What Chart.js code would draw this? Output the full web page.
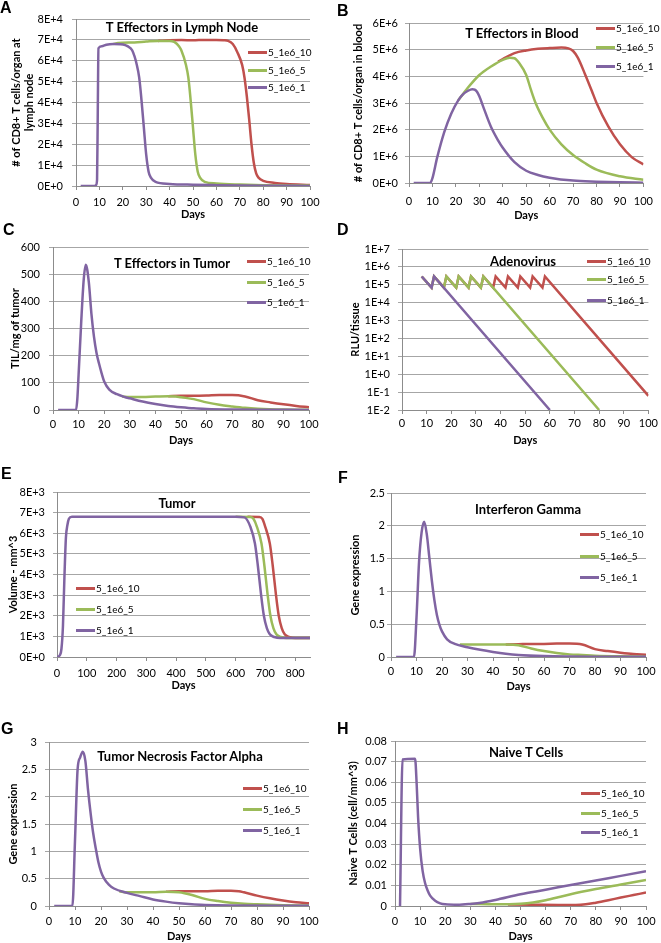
<!DOCTYPE html>
<html lang="en">
<head>
<meta charset="UTF-8">
<title>Model simulations - 5_1e6 dosing</title>
<style>
    body { margin: 0; background: #fff; }
    #fig { position: relative; width: 661px; height: 943px; overflow: hidden; color: #000; }
    .cell { position: absolute; }
    .cell canvas { display: block; }
    .letter { position: absolute; font: bold 16px/16px 'Liberation Sans', Arial, sans-serif; }
    .ttl { position: absolute; font: bold 13px Lato, sans-serif; transform: translate(-50%, -50%); white-space: nowrap; }
    .leg { position: absolute; font: 10px Lato, sans-serif; transform: translateY(-50%); display: flex; align-items: center; white-space: nowrap; }
    .sw { display: inline-block; width: 19px; height: 3px; margin-right: 1px; }
</style>
</head>
<body>
<div id="fig"></div>

<script src="https://cdn.jsdelivr.net/npm/chart.js"></script>
<script>
// series order: 5_1e6_10, 5_1e6_5, 5_1e6_1
const seriesNames = ['5_1e6_10', '5_1e6_5', '5_1e6_1'];
const seriesColors = ['#c0504d', '#9bbb59', '#8064a2'];

// A - T effectors in lymph node  [day, cells]
const lymph10 = [[35,69500],[37,69600],[40,69800],[45,69900],[50,69800],[55,70000],[60,70000],[63,69800],[65,69500],[67,68000],[69,64000],[71,58000],[72,52000],[73,43000],[74,32000],[75,20000],[76,11000],[77,6000],[78,4000],[80,2500],[85,1500],[90,1000],[100,500]];
const lymph5 = [[16,68000],[18,68500],[25,68800],[30,69200],[35,69500],[40,69500],[42,69000],[44,67000],[45,65000],[47,58000],[48,52000],[49,41000],[50,28000],[51,15000],[52,7000],[53,4000],[55,2000],[60,1200],[70,700],[80,400],[100,200]];
const lymph1 = [[2,0],[8,0],[8.6,500],[9,3000],[9.3,35000],[9.6,66000],[11,67000],[13,67700],[16,68000],[19,67900],[21,67500],[22,67000],[24,65000],[26,58000],[27,52000],[28,41000],[29,28000],[30,15000],[31,7000],[32,4000],[34,2000],[40,1000],[50,600],[60,400],[80,150],[100,50]];

// B - T effectors in blood
const blood10 = [[38,4550000],[40,4650000],[45,4870000],[50,4970000],[55,5030000],[60,5060000],[65,5080000],[68,5050000],[70,4950000],[72,4700000],[75,4100000],[78,3450000],[80,3000000],[85,2120000],[90,1450000],[95,970000],[100,700000]];
const blood5 = [[21,3100000],[23,3330000],[25,3560000],[30,4050000],[35,4370000],[40,4620000],[43,4700000],[45,4680000],[47,4500000],[50,4050000],[52,3500000],[54,3000000],[57,2450000],[60,2000000],[65,1450000],[70,1050000],[75,750000],[80,500000],[90,250000],[100,120000]];
const blood1 = [[2,0],[9,0],[10,180000],[12,950000],[15,1900000],[18,2600000],[21,3100000],[23,3320000],[25,3450000],[27,3520000],[28,3500000],[29,3420000],[30,3250000],[32,2780000],[35,2100000],[38,1600000],[40,1320000],[45,780000],[50,460000],[55,300000],[60,200000],[70,90000],[80,50000],[90,25000],[100,12000]];

// C - T effectors in tumor (TIL/mg)
const til10 = [[45,51],[50,52],[55,52],[60,53],[65,55],[70,55],[75,50],[80,36],[85,28],[90,21],[95,15],[100,10]];
const til5 = [[27,50],[30,48],[35,48],[40,50],[45,51],[48,50],[50,47],[55,40],[60,28],[65,19],[70,13],[75,8],[80,5],[90,2],[100,1]];
const til1 = [[2,0],[9,0],[9.5,40],[10,130],[11,320],[12,480],[12.8,535],[14,470],[15,355],[16,270],[17,210],[18,170],[19,135],[20,105],[22,75],[25,58],[28,48],[30,43],[35,31],[40,22],[45,15],[50,10],[55,6],[60,4],[70,2],[80,1],[100,0.3]];

// D - adenovirus (RLU/tissue), log axis
const virus10 = [[8,290000],[12,69000],[13,290000],[17,69000],[18,290000],[22,69000],[23,290000],[27,69000],[28,290000],[32,69000],[33,290000],[37,69000],[38,290000],[42,69000],[43,290000],[47,69000],[48,290000],[52,69000],[53,290000],[57,69000],[58,290000],[100,0.062]];
const virus5 = [[8,290000],[12,69000],[13,290000],[17,69000],[18,290000],[22,69000],[23,290000],[27,69000],[28,290000],[32,69000],[33,290000],[80,0.01]];
const virus1 = [[8,290000],[12,69000],[13,290000],[60,0.01]];
const virusTicks = [1e-2, 1e-1, 1e0, 1e1, 1e2, 1e3, 1e4, 1e5, 1e6, 1e7];
const virusTickLabels = ['1E-2', '1E-1', '1E+0', '1E+1', '1E+2', '1E+3', '1E+4', '1E+5', '1E+6', '1E+7'];

// E - tumor volume (mm^3)
const vol10 = [[640,6800],[680,6790],[690,6700],[700,6300],[715,5500],[725,4400],[735,3100],[745,2000],[755,1400],[765,1100],[780,970],[800,920],[850,920]];
const vol5 = [[600,6800],[650,6790],[660,6700],[672,6300],[687,5500],[697,4400],[707,3100],[717,2000],[727,1400],[737,1100],[752,970],[770,920],[850,920]];
const vol1 = [[0,0],[10,100],[15,400],[20,1500],[25,3900],[30,5800],[35,6400],[40,6700],[50,6800],[600,6800],[630,6770],[650,6300],[665,5500],[675,4400],[685,3100],[695,2000],[705,1400],[715,1100],[730,970],[750,920],[850,920]];

// F - interferon gamma
const ifn10 = [[45,0.19],[50,0.195],[55,0.2],[60,0.2],[65,0.205],[70,0.205],[75,0.19],[80,0.12],[85,0.09],[90,0.065],[95,0.045],[100,0.035]];
const ifn5 = [[27,0.19],[30,0.19],[35,0.19],[40,0.19],[45,0.19],[50,0.18],[55,0.13],[60,0.09],[65,0.06],[70,0.04],[75,0.03],[80,0.02],[90,0.01],[100,0.005]];
const ifn1 = [[2,0],[9,0],[10,0.6],[11,1.45],[12,1.9],[13,2.06],[14,1.88],[15,1.53],[16,1.17],[17,0.87],[18,0.64],[19,0.49],[20,0.39],[22,0.27],[25,0.2],[30,0.15],[35,0.11],[40,0.077],[45,0.05],[50,0.032],[60,0.015],[70,0.008],[80,0.005],[100,0.002]];

// G - TNF alpha
const tnf10 = [[45,0.26],[50,0.27],[55,0.27],[60,0.27],[65,0.28],[70,0.28],[73,0.27],[75,0.25],[80,0.19],[85,0.14],[90,0.1],[95,0.07],[100,0.05]];
const tnf5 = [[27,0.27],[30,0.25],[35,0.25],[40,0.25],[45,0.26],[50,0.25],[55,0.2],[60,0.13],[65,0.09],[70,0.06],[75,0.04],[80,0.03],[90,0.015],[100,0.008]];
const tnf1 = [[2,0],[9,0],[10,1.2],[11,2.5],[12,2.72],[13,2.82],[14,2.65],[15,2.13],[16,1.7],[17,1.33],[18,1.05],[19,0.8],[20,0.63],[21,0.52],[23,0.39],[25,0.32],[30,0.24],[35,0.18],[40,0.12],[45,0.08],[50,0.05],[55,0.03],[60,0.02],[70,0.01],[100,0.003]];

// H - naive T cells (cell/mm^3)
const naive10 = [[45,0.0007],[55,0.0006],[65,0.0005],[72,0.0005],[76,0.0008],[80,0.0016],[85,0.0028],[90,0.0041],[95,0.0053],[100,0.0065]];
const naive5 = [[30,0.001],[40,0.0008],[50,0.0011],[55,0.0017],[60,0.0028],[65,0.0042],[70,0.0057],[80,0.0082],[90,0.0104],[100,0.0126]];
const naive1 = [[2,0],[3,0.071],[8,0.0714],[8.6,0.06],[9.2,0.043],[10,0.028],[11,0.017],[12,0.011],[13,0.0075],[14,0.005],[16,0.0025],[18,0.0013],[20,0.0008],[25,0.0006],[30,0.001],[35,0.0017],[40,0.0029],[50,0.0057],[60,0.0079],[70,0.0102],[80,0.0124],[90,0.0146],[100,0.0168]];

Chart.defaults.font.family = 'Lato, sans-serif';
Chart.defaults.font.size = 11;
Chart.defaults.color = '#000';

const gridGray = '#a6a6a6';
const axisGray = '#8c8c8c';
const sci = (exp) => (v) => v === 0 ? '0E+0' : (v / Math.pow(10, exp)) + 'E+' + exp;

const panels = [
    { letter: 'A', lx: 0, ly: 0, box: [0, 0, 330, 230], left: 76, right: 20, top: 19, xh: 44, xpad: 6, daysPb: 9,
      yTitle: ['# of CD8+ T cells/organ at', 'lymph node'], yPt: 10, ypad: 9, ymax: 8e4, ystep: 1e4, fmt: sci(4),
      title: 'T Effectors in Lymph Node', tx: 182, ty: 27, legX: 248, legY: [52, 70, 87], series: [lymph10, lymph5, lymph1] },
    { letter: 'B', lx: 337, ly: 3, box: [330, 0, 331, 230], left: 79, right: 9, top: 23, xh: 47, xpad: 8, daysPb: 8,
      yTitle: '# of CD8+ T cells/organ in blood', yPt: 22, ypad: 7, ymax: 6e6, ystep: 1e6, fmt: sci(6),
      title: 'T Effectors in Blood', tx: 522, ty: 33, legX: 596, legY: [28, 47, 66], series: [blood10, blood5, blood1] },
    { letter: 'C', lx: 3, ly: 222, box: [0, 230, 330, 230], left: 53, right: 21, top: 17, xh: 50, xpad: 4, daysPb: 13,
      yTitle: 'TIL/mg of tumor', yPt: 9, ypad: 9, ymax: 600, ystep: 100,
      title: 'T Effectors in Tumor', tx: 172, ty: 263, legX: 247, legY: [261, 282, 302], series: [til10, til5, til1] },
    { letter: 'D', lx: 337, ly: 222, box: [330, 230, 331, 230], left: 72, right: 12, top: 19, xh: 50, xpad: 3, daysPb: 13,
      yTitle: 'RLU/tissue', yPt: 19, ypad: 8, log: true,
      title: 'Adenovirus', tx: 523, ty: 261, legX: 587, legY: [261, 279, 300], series: [virus10, virus5, virus1] },
    { letter: 'E', lx: 1, ly: 466, box: [0, 460, 330, 240], left: 57, right: 20, top: 32, xh: 43, xpad: 6, daysPb: 8,
      yTitle: 'Volume - mm^3', yPt: 7, ypad: 8, ymax: 8e3, ystep: 1e3, fmt: sci(3), xmax: 850, xstep: 100,
      title: 'Tumor', tx: 177, ty: 503, legX: 76, legY: [588, 609, 630], series: [vol10, vol5, vol1] },
    { letter: 'F', lx: 338, ly: 470, box: [330, 460, 331, 240], left: 61, right: 15, top: 33, xh: 43, xpad: 4, daysPb: 7,
      yTitle: 'Gene expression', yPt: 19, ypad: 2, ymax: 2.5, ystep: 0.5,
      title: 'Interferon Gamma', tx: 528, ty: 509, legX: 580, legY: [534, 556, 577], series: [ifn10, ifn5, ifn1] },
    { letter: 'G', lx: 1, ly: 721, box: [0, 700, 330, 243], left: 49, right: 21, top: 42, xh: 37, xpad: 5, daysPb: 0,
      yTitle: 'Gene expression', yPt: 7, ypad: 8, ymax: 3, ystep: 0.5,
      title: 'Tumor Necrosis Factor Alpha', tx: 180, ty: 756, legX: 243, legY: [788, 809, 830], series: [tnf10, tnf5, tnf1] },
    { letter: 'H', lx: 337, ly: 721, box: [330, 700, 331, 243], left: 65, right: 15, top: 41, xh: 37, xpad: 5, daysPb: 0,
      yTitle: 'Naive T Cells (cell/mm^3)', yPt: 17, ypad: 4, ymax: 0.08, ystep: 0.01,
      title: 'Naive T Cells', tx: 526, ty: 752, legX: 581, legY: [793, 813, 832], series: [naive10, naive5, naive1] }
];

const fig = document.getElementById('fig');

function addDiv(cls, x, y, html) {
    const d = document.createElement('div');
    d.className = cls;
    d.style.left = x + 'px';
    d.style.top = y + 'px';
    d.innerHTML = html;
    fig.appendChild(d);
    return d;
}

function yScale(p) {
    const common = {
        position: 'left',
        grid: { color: gridGray, tickLength: 4 },
        border: { color: axisGray },
        title: { display: true, text: p.yTitle, font: { weight: 'bold', size: 11 }, padding: { top: p.yPt, bottom: 0 } },
        afterFit: (s) => { s.width = p.left; }
    };
    if (p.log) {
        return Object.assign(common, {
            type: 'logarithmic', min: 1e-2, max: 1e7,
            afterBuildTicks: (s) => { s.ticks = virusTicks.map(v => ({ value: v, major: false })); },
            ticks: { autoSkip: false, padding: p.ypad, callback: (v, i) => virusTickLabels[i] }
        });
    }
    return Object.assign(common, {
        type: 'linear', min: 0, max: p.ymax,
        ticks: { stepSize: p.ystep, autoSkip: false, padding: p.ypad, callback: p.fmt || ((v) => +v.toFixed(3)) }
    });
}

function makePanel(p) {
    const [bx, by, bw, bh] = p.box;
    const cell = document.createElement('div');
    cell.className = 'cell';
    cell.style.left = bx + 'px';
    cell.style.top = by + 'px';
    const canvas = document.createElement('canvas');
    canvas.width = bw;
    canvas.height = bh;
    cell.appendChild(canvas);
    fig.appendChild(cell);

    new Chart(canvas, {
        type: 'line',
        data: {
            datasets: p.series.map((pts, i) => ({
                label: seriesNames[i],
                data: pts.map(([x, y]) => ({ x, y })),
                borderColor: seriesColors[i],
                borderWidth: 2.5,
                pointRadius: 0,
                fill: false,
                order: 2 - i,              // 5_1e6_1 drawn on top
                tension: p.log ? 0 : 0.4,
                cubicInterpolationMode: p.log ? 'default' : 'monotone'
            }))
        },
        options: {
            responsive: false,
            animation: false,
            events: [],
            layout: { padding: { left: 0, right: p.right, top: p.top, bottom: 0 } },
            plugins: { legend: { display: false }, tooltip: { enabled: false } },
            scales: {
                x: {
                    type: 'linear', min: 0, max: p.xmax || 100,
                    ticks: { stepSize: p.xstep || 10, autoSkip: false, maxRotation: 0, padding: p.xpad, includeBounds: false },
                    grid: { drawOnChartArea: false, color: axisGray, tickLength: 4 },
                    border: { color: axisGray },
                    title: { display: true, text: 'Days', font: { weight: 'bold', size: 11 }, padding: { top: 0, bottom: p.daysPb } },
                    afterFit: (s) => { s.height = p.xh; }
                },
                y: yScale(p)
            }
        }
    });

    addDiv('letter', p.lx, p.ly, p.letter);
    addDiv('ttl', p.tx, p.ty, p.title);
    seriesNames.forEach((name, i) => {
        addDiv('leg', p.legX, p.legY[i], '<span class="sw" style="background:' + seriesColors[i] + '"></span>' + name);
    });
}

panels.forEach(makePanel);
</script>
</body>
</html>
